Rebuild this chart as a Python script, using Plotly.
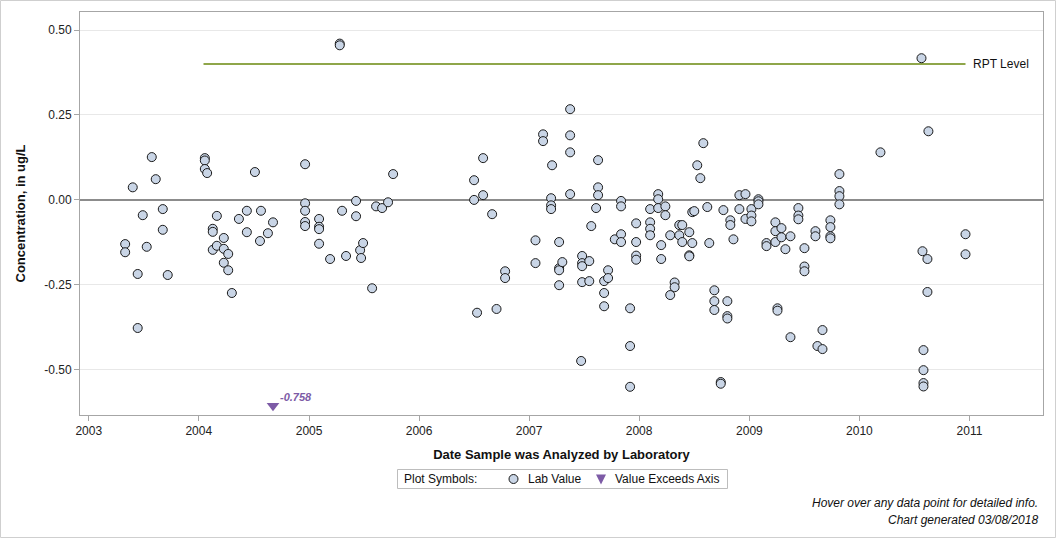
import plotly.graph_objects as go
from datetime import datetime, timedelta

# ---- data (decimal year of analysis, concentration ug/L) ----
lab_year = [
    2003.331, 2003.331, 2003.400, 2003.445, 2003.445, 2003.491, 2003.527, 2003.573, 2003.609, 2003.673,
    2003.673, 2003.718,
    2004.055, 2004.055, 2004.055, 2004.076, 2004.127, 2004.127, 2004.127, 2004.164, 2004.164, 2004.227,
    2004.227, 2004.267, 2004.227, 2004.267, 2004.300, 2004.364, 2004.436, 2004.436, 2004.509, 2004.555,
    2004.564, 2004.627, 2004.673,
    2004.964, 2004.964, 2004.964, 2004.964, 2004.964, 2005.091, 2005.091, 2005.091, 2005.091, 2005.191,
    2005.279, 2005.279, 2005.300, 2005.336, 2005.427, 2005.427, 2005.464, 2005.473, 2005.491, 2005.573,
    2005.609, 2005.664, 2005.718, 2005.764,
    2006.500, 2006.500, 2006.527, 2006.582, 2006.582, 2006.664, 2006.704, 2006.782, 2006.782,
    2007.058, 2007.058, 2007.127, 2007.127, 2007.209, 2007.200, 2007.200, 2007.200, 2007.273, 2007.273,
    2007.273, 2007.302, 2007.273, 2007.373, 2007.373, 2007.373, 2007.373, 2007.473, 2007.482, 2007.482,
    2007.482, 2007.547, 2007.482, 2007.547, 2007.565, 2007.627, 2007.627, 2007.627, 2007.609, 2007.682,
    2007.718, 2007.718, 2007.682, 2007.682, 2007.779, 2007.836, 2007.836, 2007.836, 2007.836, 2007.918,
    2007.918, 2007.918, 2007.973, 2007.973, 2007.973, 2007.973,
    2008.100, 2008.100, 2008.100, 2008.100, 2008.173, 2008.173, 2008.173, 2008.238, 2008.238, 2008.200,
    2008.200, 2008.282, 2008.322, 2008.322, 2008.282, 2008.364, 2008.391, 2008.364, 2008.391, 2008.455,
    2008.455, 2008.455, 2008.482, 2008.482, 2008.500, 2008.527, 2008.555, 2008.582, 2008.618, 2008.636,
    2008.682, 2008.682, 2008.682, 2008.740, 2008.740, 2008.764, 2008.800, 2008.800, 2008.800, 2008.827,
    2008.827, 2008.855, 2008.909, 2008.964, 2008.909, 2008.964, 2009.018, 2009.018, 2009.018, 2009.082,
    2009.082, 2009.082,
    2009.155, 2009.155, 2009.236, 2009.236, 2009.236, 2009.291, 2009.291, 2009.327, 2009.373, 2009.255,
    2009.255, 2009.373, 2009.445, 2009.445, 2009.445, 2009.500, 2009.500, 2009.500, 2009.600, 2009.600,
    2009.618, 2009.664, 2009.664, 2009.736, 2009.736, 2009.736, 2009.736, 2009.818, 2009.818, 2009.818,
    2009.818, 2010.191,
    2010.564, 2010.573, 2010.618, 2010.627, 2010.618, 2010.582, 2010.582, 2010.582, 2010.582, 2010.964,
    2010.964,
]
lab_value = [
    -0.130, -0.154, 0.037, -0.218, -0.377, -0.045, -0.138, 0.126, 0.061, -0.027,
    -0.088, -0.221,
    0.123, 0.116, 0.091, 0.079, -0.085, -0.094, -0.147, -0.047, -0.135, -0.112,
    -0.144, -0.159, -0.185, -0.207, -0.274, -0.056, -0.032, -0.095, 0.082, -0.121,
    -0.032, -0.098, -0.066,
    0.105, -0.010, -0.032, -0.065, -0.077, -0.056, -0.079, -0.086, -0.129, -0.174,
    0.460, 0.455, -0.032, -0.165, -0.003, -0.048, -0.148, -0.171, -0.127, -0.260,
    -0.019, -0.024, -0.007, 0.076,
    0.058, 0.000, -0.332, 0.123, 0.014, -0.042, -0.321, -0.210, -0.230,
    -0.119, -0.186, 0.193, 0.173, 0.102, 0.005, -0.016, -0.027, -0.124, -0.201,
    -0.207, -0.183, -0.251, 0.267, 0.190, 0.140, 0.017, -0.474, -0.165, -0.186,
    -0.195, -0.180, -0.242, -0.239, -0.077, 0.117, 0.037, 0.014, -0.024, -0.239,
    -0.207, -0.230, -0.274, -0.313, -0.116, -0.003, -0.019, -0.101, -0.124, -0.319,
    -0.430, -0.550, -0.069, -0.124, -0.164, -0.176,
    -0.027, -0.066, -0.085, -0.104, 0.017, 0.002, -0.024, -0.019, -0.045, -0.133,
    -0.174, -0.104, -0.243, -0.257, -0.280, -0.074, -0.074, -0.104, -0.124, -0.095,
    -0.163, -0.166, -0.127, -0.036, -0.033, 0.102, 0.064, 0.167, -0.021, -0.127,
    -0.266, -0.298, -0.324, -0.536, -0.541, -0.030, -0.298, -0.342, -0.349, -0.060,
    -0.074, -0.116, 0.014, 0.017, -0.027, -0.056, -0.027, -0.046, -0.063, 0.002,
    -0.004, -0.013,
    -0.127, -0.136, -0.066, -0.092, -0.124, -0.083, -0.110, -0.145, -0.107, -0.319,
    -0.326, -0.404, -0.024, -0.046, -0.057, -0.142, -0.196, -0.210, -0.092, -0.107,
    -0.430, -0.383, -0.439, -0.060, -0.080, -0.107, -0.113, 0.076, 0.026, 0.011,
    -0.013, 0.140,
    0.417, -0.151, -0.174, 0.202, -0.271, -0.442, -0.501, -0.539, -0.549, -0.101,
    -0.160,
]

exceed_year = [2004.673]
exceed_value = [-0.758]
exceed_plot_at = -0.606          # axis floor where off-scale value is drawn
exceed_label = ["-0.758"]

rpt_level = 0.40
rpt_start_year = 2004.043
rpt_end_year = 2010.964

y_tickvals = [0.50, 0.25, 0.00, -0.25, -0.50]
y_ticktext = ["0.50", "0.25", "0.00", "-0.25", "-0.50"]
y_range = [-0.633, 0.553]
x_range = ["2002-12-03", "2011-09-02"]


def to_date(dy):
    yr = int(dy)
    start = datetime(yr, 1, 1)
    days = (datetime(yr + 1, 1, 1) - start).days
    return start + timedelta(days=(dy - yr) * days)


lab_dates = [to_date(v) for v in lab_year]
exceed_dates = [to_date(v) for v in exceed_year]
rpt_dates = [to_date(rpt_start_year), to_date(rpt_end_year)]

FONT = "Liberation Sans, Arial, sans-serif"
PURPLE = "#7D5BA6"
FILL = "#C9D5E6"

fig = go.Figure()

fig.add_trace(go.Scatter(
    x=rpt_dates, y=[rpt_level, rpt_level], mode="lines", name="RPT Level",
    line=dict(color="#8FA64A", width=2), showlegend=False, hoverinfo="skip"))

fig.add_trace(go.Scatter(
    x=lab_dates, y=lab_value, mode="markers", name="Lab Value", showlegend=False,
    marker=dict(symbol="circle", size=9, color=FILL,
                line=dict(color="#1A1A1A", width=1)),
    hovertemplate="%{x|%m/%d/%Y}<br>%{y:.3f} ug/L<extra></extra>"))

fig.add_trace(go.Scatter(
    x=exceed_dates, y=[exceed_plot_at] * len(exceed_dates), mode="markers",
    name="Value Exceeds Axis", showlegend=False,
    marker=dict(symbol="triangle-down", size=11, color=PURPLE, line=dict(width=0)),
    customdata=exceed_value,
    hovertemplate="%{x|%m/%d/%Y}<br>%{customdata:.3f} ug/L<extra></extra>"))

annotations = []
for d, lab in zip(exceed_dates, exceed_label):
    annotations.append(dict(x=d, y=exceed_plot_at, xref="x", yref="y",
                            text="<b><i>" + lab + "</i></b>",
                            showarrow=False, xanchor="left", yanchor="bottom",
                            xshift=5, yshift=1,
                            font=dict(family=FONT, size=11, color=PURPLE)))

annotations.append(dict(x=rpt_dates[1], y=rpt_level, xref="x", yref="y",
                        text="RPT Level", showarrow=False, xanchor="left",
                        yanchor="middle", xshift=5,
                        font=dict(family=FONT, size=12, color="#111")))

PW, PH, L, T = 963, 403, 80, 12
def px(xp):
    return (xp - L) / PW
def py(yp):
    return (T + PH - yp) / PH

annotations.append(dict(x=px(1040), y=py(503), xref="paper", yref="paper",
                        text="<i>Hover over any data point for detailed info.</i>",
                        showarrow=False, xanchor="right", yanchor="middle",
                        font=dict(family=FONT, size=12, color="#111")))
annotations.append(dict(x=px(1040), y=py(520), xref="paper", yref="paper",
                        text="<i>Chart generated 03/08/2018</i>",
                        showarrow=False, xanchor="right", yanchor="middle",
                        font=dict(family=FONT, size=12, color="#111")))

# ---- custom legend box ----
LEG_Y = 479
annotations.append(dict(x=px(402), y=py(LEG_Y), xref="paper", yref="paper",
                        text="Plot Symbols:", showarrow=False, xanchor="left",
                        yanchor="middle", font=dict(family=FONT, size=12, color="#111")))
annotations.append(dict(x=px(526), y=py(LEG_Y), xref="paper", yref="paper",
                        text="Lab Value", showarrow=False, xanchor="left",
                        yanchor="middle", font=dict(family=FONT, size=12, color="#111")))
annotations.append(dict(x=px(613), y=py(LEG_Y), xref="paper", yref="paper",
                        text="Value Exceeds Axis", showarrow=False, xanchor="left",
                        yanchor="middle", font=dict(family=FONT, size=12, color="#111")))

shapes = [
    dict(type="rect", xref="paper", yref="paper",
         x0=px(0.5), x1=px(1055.5), y0=py(537.5), y1=py(0.5),
         line=dict(color="#CFCFCF", width=1), fillcolor="rgba(0,0,0,0)", layer="below"),
    dict(type="rect", xref="paper", yref="paper",
         x0=px(397.5), x1=px(727.5), y0=py(488.5), y1=py(469.5),
         line=dict(color="#BDBDBD", width=1), fillcolor="white"),
    dict(type="circle", xref="paper", yref="paper",
         x0=px(509), x1=px(518), y0=py(483.5), y1=py(474.5),
         line=dict(color="#1A1A1A", width=1), fillcolor=FILL),
    dict(type="path", xref="paper", yref="paper",
         path="M {:.5f},{:.5f} L {:.5f},{:.5f} L {:.5f},{:.5f} Z".format(
             px(596), py(474.5), px(606), py(474.5), px(601), py(484.5)),
         line=dict(width=0), fillcolor=PURPLE),
]

fig.update_layout(
    width=1056, height=538,
    margin=dict(l=L, r=1056 - L - PW, t=T, b=538 - T - PH),
    paper_bgcolor="white", plot_bgcolor="white",
    font=dict(family=FONT, size=12, color="#222"),
    showlegend=False,
    annotations=annotations,
    shapes=shapes,
    xaxis=dict(
        type="date", range=x_range, tick0="2003-01-01", dtick="M12",
        tickformat="%Y", showgrid=False, zeroline=False,
        showline=True, mirror=True, linecolor="#A6A6A6", linewidth=1,
        ticks="outside", ticklen=5, tickcolor="#A6A6A6",
        tickfont=dict(family=FONT, size=12, color="#222"),
        title=dict(text="<b>Date Sample was Analyzed by Laboratory</b>",
                   font=dict(family=FONT, size=13, color="#111"), standoff=12),
    ),
    yaxis=dict(
        range=y_range, tickvals=y_tickvals, ticktext=y_ticktext,
        showgrid=True, gridcolor="#E8E8E8", gridwidth=1,
        zeroline=True, zerolinecolor="#8C8C8C", zerolinewidth=2,
        showline=True, mirror=True, linecolor="#A6A6A6", linewidth=1,
        ticks="outside", ticklen=5, tickcolor="#A6A6A6",
        tickfont=dict(family=FONT, size=12, color="#222"),
        title=dict(text="<b>Concentration, in ug/L</b>",
                   font=dict(family=FONT, size=13, color="#111"), standoff=15),
    ),
)

fig.write_html("out.html")
